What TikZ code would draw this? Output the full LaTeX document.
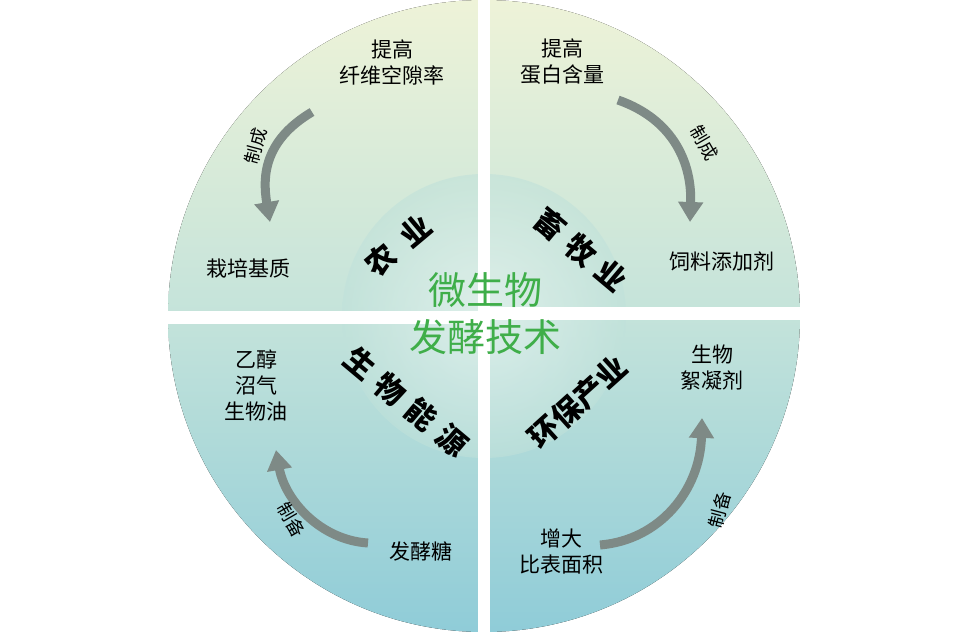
\documentclass[tikz,border=0pt]{standalone}
\usepackage{fontspec}
\setmainfont{Noto Sans CJK SC}
\usetikzlibrary{arrows.meta,shadings}
\definecolor{topc}{HTML}{EEF3D8}
\definecolor{midc}{HTML}{C4E3DA}
\definecolor{botc}{HTML}{8FCCD8}
\definecolor{greentxt}{HTML}{3FAE49}
\definecolor{arr}{HTML}{7E8A86}
\tikzset{
 lbl/.style={font=\fontsize{21}{26}\selectfont, align=center, inner sep=1pt},
 quad/.style={font=\fontsize{30}{32}\selectfont\bfseries, inner sep=1pt},
 arrw/.style={line width=9pt, draw=arr, -{Triangle[width=24pt,length=20pt]}},
 alab/.style={font=\fontsize{18}{20}\selectfont, inner sep=1pt}
}
\begin{document}
\begin{tikzpicture}[x=1pt,y=-1pt]
\useasboundingbox (0,0) rectangle (967,635);
\fill[top color=topc, bottom color=botc, middle color=midc] (484,316) circle (316);
\fill[white] (478,0) rectangle (490,635);
\fill[white] (160,311) rectangle (478,324);
\fill[white] (490,307) rectangle (810,320);
\shade[inner color=white!70!midc, outer color=midc!92!botc, opacity=0.6] (484,316) circle (142);
\fill[white] (478,170) rectangle (490,460);
\fill[white] (340,311) rectangle (478,324);
\fill[white] (490,307) rectangle (630,320);
% center
\node[font=\fontsize{38}{42}\selectfont, text=greentxt] (c1) at (485,290) {微生物};
\node[font=\fontsize{38}{42}\selectfont, text=greentxt] (c2) at (485,337) {发酵技术};
\node[quad, rotate=40] (q1) at (398,246) {农\enspace 业};
\node[quad, rotate=-40] (q2) at (581,250) {畜\,\,牧\,\,业};
\node[quad, rotate=-40] (q3) at (406,402) {生\,\,物\,\,能\,\,源};
\node[quad, rotate=42] (q4) at (578,402) {环保产业};
% labels
\node[lbl] (a1) at (392,62) {提高\\纤维空隙率};
\node[lbl] (a2) at (248,268) {栽培基质};
\node[lbl] (b1) at (562,62) {提高\\蛋白含量};
\node[lbl] (b2) at (722,262) {饲料添加剂};
\node[lbl] (d1) at (256,385) {乙醇\\沼气\\生物油};
\node[lbl] (d2) at (421,552) {发酵糖};
\node[lbl] (e1) at (712,368) {生物\\絮凝剂};
\node[lbl] (e2) at (561,552) {增大\\比表面积};
% arrows
\draw[arrw] (312,112) .. controls (265,140) and (262,175) .. (270,222);
\draw[arrw] (618,100) .. controls (675,120) and (692,165) .. (690,222);
\draw[arrw] (368,543) .. controls (320,540) and (285,500) .. (276,450);
\draw[arrw] (600,545) .. controls (660,540) and (700,490) .. (702,418);
\node[alab, rotate=75] (l1) at (256,146) {制成};
\node[alab, rotate=-60] (l2) at (704,143) {制成};
\node[alab, rotate=-60] (l3) at (291,520) {制备};
\node[alab, rotate=75] (l4) at (720,510) {制备};
\end{tikzpicture}
\end{document}
